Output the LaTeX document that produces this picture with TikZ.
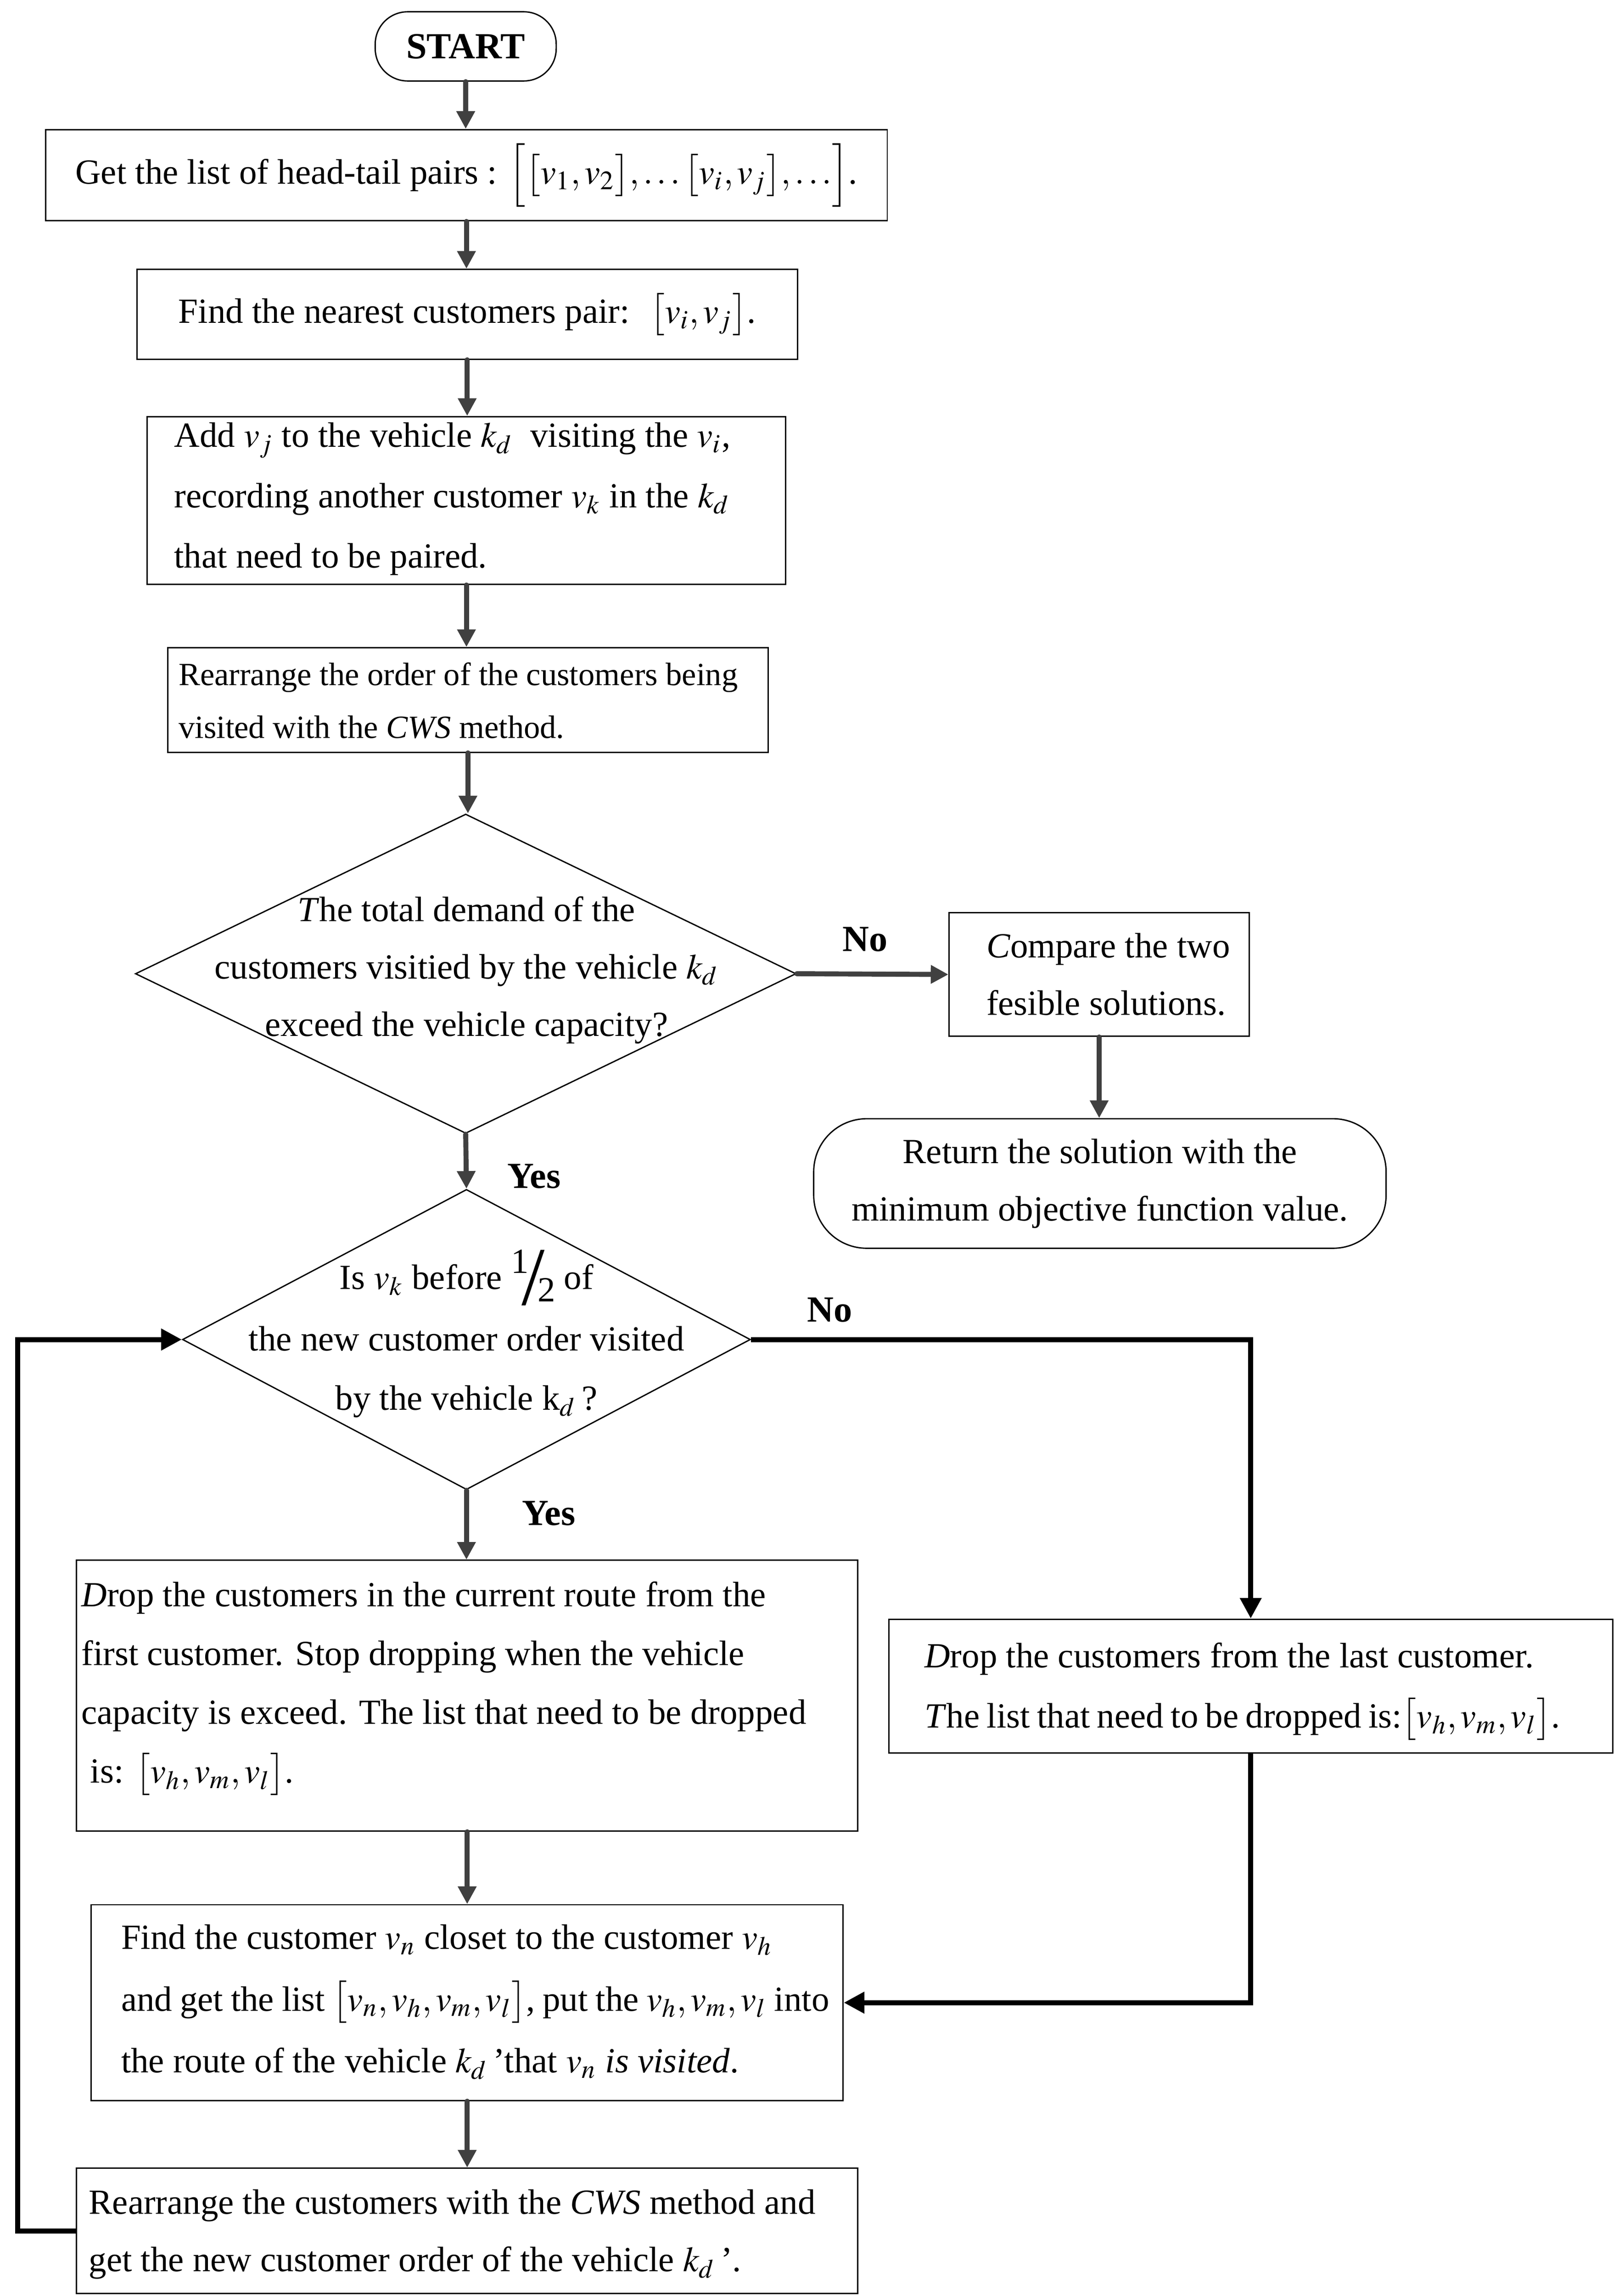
\documentclass[tikz,border=0pt]{standalone}
\usepackage{mathptmx}
\usepackage[no-math]{fontspec}
\setmainfont{Liberation Serif}
\usetikzlibrary{arrows.meta,shapes.geometric}
\tikzset{
  box/.style={draw, line width=0.45pt, inner sep=0pt},
  txt/.style={inner sep=0pt, align=left, anchor=west},
  ctxt/.style={inner sep=0pt, align=center},
  garrow/.style={draw=black!75, line width=1.7pt, line cap=round, -{Triangle[length=6pt,width=6pt]}},
  karrow/.style={draw=black, line width=1.7pt, -{Triangle[length=7pt,width=7pt]}},
  lab/.style={font=\fontsize{12.5}{15}\selectfont\bfseries, inner sep=0pt},
}
\newcommand{\halfrac}{\raisebox{0.45em}{1}\kern-0.2em\raisebox{-0.45em}{\resizebox{!}{1.55em}{/}}\kern-0.2em\raisebox{-0.35em}{2}}
\begin{document}
\begin{tikzpicture}[x=0.5pt,y=-0.5pt]
\useasboundingbox (0,0) rectangle (1100,1559.8);

% START
\node[box, rounded corners=11pt, minimum width=61.5pt, minimum height=23.5pt,
      font=\fontsize{12.5}{15}\selectfont\bfseries] (start) at (316.5,31.5) {START};

% Box 1
\node[box, minimum width=286pt, minimum height=31pt, font=\fontsize{12}{20}\selectfont] (b1) at (317,119)
  {Get the list of head-tail pairs : $\Bigl[\bigl[v_1,v_2\bigr],\ldots\bigl[v_i,v_j\bigr],\ldots\Bigr]$.};

% Box 2
\node[box, minimum width=224.5pt, minimum height=30.5pt, font=\fontsize{12}{20}\selectfont] (b2) at (317.5,213.5)
  {Find the nearest customers pair: \ $\bigl[v_i,v_j\bigr]$.};

% Box 3
\node[box, minimum width=217pt, minimum height=57pt] (b3) at (317,340) {};
\node[txt, font=\fontsize{12}{20.5}\selectfont] (t3) at (118,339)
  {Add $v_j$ to the vehicle $k_d$ \ visiting the $v_i$,\\
   recording another customer $v_k$ in the $k_d$\\
   that need to be paired.};

% Box 4
\node[box, minimum width=204pt, minimum height=35.5pt] (b4) at (318,475.5) {};
\node[txt, font=\fontsize{11}{18}\selectfont] (t4) at (121,476)
  {Rearrange the order of the customers being\\
   visited with the \textit{CWS} method.};

% Diamond 1
\node[diamond, draw, line width=0.45pt, inner sep=0pt, minimum width=224.5pt, minimum height=108.5pt] (d1) at (316.5,661.5) {};
\node[ctxt, font=\fontsize{12}{19.5}\selectfont] (d1t) at (317,659)
  {\textit{T}he total demand of the\\
   customers visitied by the vehicle $k_d$\\
   exceed the vehicle capacity?};

% Box 5
\node[box, minimum width=102pt, minimum height=42pt] (b5) at (747,662) {};
\node[txt, font=\fontsize{12}{19.5}\selectfont] (t5) at (670,662)
  {\textit{C}ompare the two\\ fesible solutions.};

% Terminal 2
\node[box, rounded corners=18pt, minimum width=194.5pt, minimum height=44pt, align=center,
      font=\fontsize{12}{19.5}\selectfont] (t2) at (747.5,804)
  {Return the solution with the\\ minimum objective function value.};

% Diamond 2
\node[diamond, draw, line width=0.45pt, inner sep=0pt, minimum width=193pt, minimum height=102pt] (d2) at (317,910) {};
\node[ctxt, font=\fontsize{12}{20}\selectfont] (d2t) at (317,906)
  {Is $v_k$ before \halfrac\ of\\[1pt]
   the new customer order visited\\
   by the vehicle k$_d$\,?};

% Box 6
\node[box, minimum width=246pt, minimum height=45.5pt] (b6) at (850,1145.5) {};
\node[txt, font=\fontsize{12}{20.5}\selectfont] (t6) at (628,1149)
  {\textit{D}rop the customers from the last customer.\\
   {\spaceskip=0.2em plus 0.05em minus 0.05em \textit{T}he list that need to be dropped is:$\bigl[v_h,v_m,v_l\bigr]$.}};

% Box 7
\node[box, minimum width=265.5pt, minimum height=92pt] (b7) at (317.5,1152) {};
\node[txt, font=\fontsize{12}{20}\selectfont] (t7) at (55,1147)
  {\textit{D}rop the customers in the current route from the\\
   first customer. Stop dropping when the vehicle\\
   capacity is exceed. The list that need to be dropped\\
   \ is: $\bigl[v_h,v_m,v_l\bigr]$.};

% Box 8
\node[box, minimum width=255.5pt, minimum height=66.5pt] (b8) at (317.5,1360.5) {};
\node[txt, font=\fontsize{12}{21}\selectfont] (t8) at (82,1360)
  {Find the customer $v_n$ closet to the customer $v_h$\\
   {\spaceskip=0.22em plus 0.05em minus 0.05em and get the list $\bigl[v_n,v_h,v_m,v_l\bigr]$, put the $v_h,v_m,v_l$ into}\\
   the route of the vehicle $k_d$\,'that $v_n$ \textit{is visited}.};

% Box 9
\node[box, minimum width=265.5pt, minimum height=42.5pt] (b9) at (317.5,1515.5) {};
\node[txt, font=\fontsize{12}{19.5}\selectfont] (t9) at (60,1518)
  {Rearrange the customers with the \textit{CWS} method and\\
   get the new customer order of the vehicle $k_d$\,'.};

% Labels
\node[lab] (no1) at (588,638) {No};
\node[lab] (yes1) at (363,799) {Yes};
\node[lab] (no2) at (564,890) {No};
\node[lab] (yes2) at (373,1028) {Yes};

% Connectors
\draw[garrow] (start.south) -- (start.south |- b1.north);
\draw[garrow] (b1.south) -- (b1.south |- b2.north);
\draw[garrow] (b2.south) -- (b2.south |- b3.north);
\draw[garrow] (b3.south) -- (b3.south |- b4.north);
\draw[garrow] (b4.south) -- (b4.south |- d1.north);
\draw[garrow] (d1.east) -- (b5.west);
\draw[garrow] (b5.south) -- (b5.south |- t2.north);
\draw[garrow] (d1.south) -- (d2.north);
\draw[garrow] (d2.south) -- (d2.south |- b7.north);
\draw[garrow] (b7.south) -- (b7.south |- b8.north);
\draw[garrow] (b8.south) -- (b8.south |- b9.north);
\draw[karrow] (d2.east) -| (b6.north);
\draw[karrow] (b6.south) |- (b8.east);
\coordinate (lp) at (12,1515.5);
\draw[karrow] (b9.west) -- (lp) |- (d2.west);
\end{tikzpicture}
\end{document}
